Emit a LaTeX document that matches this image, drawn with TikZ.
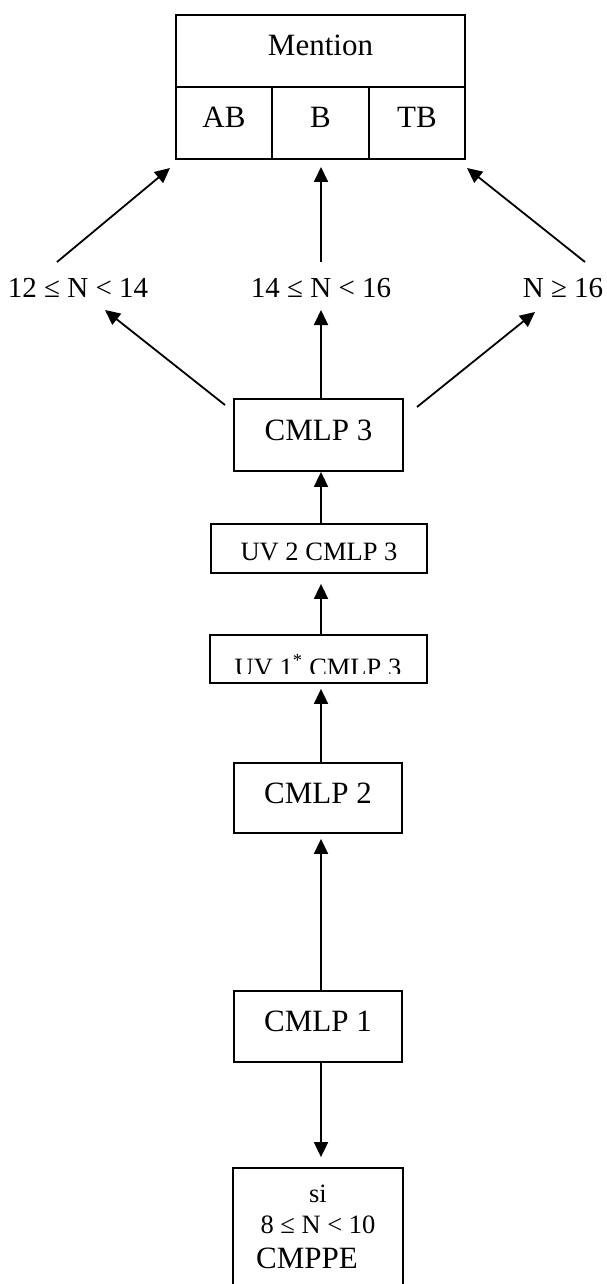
\documentclass[tikz,border=0pt]{standalone}
\usepackage{fontspec}
\setmainfont{Liberation Serif}
\usetikzlibrary{arrows.meta}
\begin{document}
\begin{tikzpicture}[x=1pt,y=-1pt,
  box/.style={draw, line width=1.8pt, inner sep=0pt, text height=15pt, text depth=5pt},
  arr/.style={line width=1.8pt, -{Triangle[length=15pt,width=14pt]}},
  big/.style={font=\fontsize{31}{36}\selectfont},
  mid/.style={font=\fontsize{26.5}{31}\selectfont},
  lab/.style={font=\fontsize{29}{34}\selectfont, anchor=base, inner sep=0pt}]
\useasboundingbox (0,0) rectangle (607,1284);
\clip (0,0) rectangle (607,1284);
\coordinate (ax) at (321,0);
% Mention table
\node[box,big,minimum width=289pt,minimum height=72pt] (mention) at (320.5,51) {Mention};
\node[box,big,minimum width=96pt,minimum height=72pt] (ab) at (224,123) {AB};
\node[box,big,minimum width=97pt,minimum height=72pt] (b) at (320.5,123) {B};
\node[box,big,minimum width=96pt,minimum height=72pt] (tb) at (417,123) {TB};
% labels
\node[lab] (l1) at (78,297) {12 ≤ N < 14};
\node[lab] (l2) at (321,297) {14 ≤ N < 16};
\node[lab] (l3) at (563,297) {N ≥ 16};
% boxes
\node[box,big,minimum width=169pt,minimum height=72pt] (cmlp3) at (318.5,435) {CMLP 3};
\node[box,mid,minimum width=216pt,minimum height=49pt,text height=23pt,text depth=0pt] (uv2) at (319,548.5) {UV 2 CMLP 3};
\node[box,minimum width=217pt,minimum height=48pt] (uv1) at (318.5,659) {};
\begin{scope}
\clip (210,635) rectangle (427,673);
\node[anchor=base,mid,inner sep=0pt] (uv1t) at (318,676) {UV 1\textsuperscript{*} CMLP 3};
\end{scope}
\node[box,big,minimum width=168pt,minimum height=70pt] (cmlp2) at (318,798) {CMLP 2};
\node[box,big,minimum width=168pt,minimum height=71pt] (cmlp1) at (318,1026.5) {CMLP 1};
\node[box,minimum width=170pt,minimum height=150pt] (si) at (318,1243) {};
\node[anchor=base,mid,inner sep=0pt] (si1) at (318,1202) {si};
\node[anchor=base,mid,inner sep=0pt] (si2) at (318,1233) {8 ≤ N < 10};
\node[anchor=base,big,inner sep=0pt] (si3) at (307,1268) {CMPPE};
% upper arrows
\coordinate (a1s) at (57,262);  \coordinate (a1e) at (170,168);
\coordinate (a2s) at (321,262); \coordinate (a2e) at (321,167);
\coordinate (a3s) at (585,262); \coordinate (a3e) at (467,168);
\draw[arr] (a1s) -- (a1e);
\draw[arr] (a2s) -- (a2e);
\draw[arr] (a3s) -- (a3e);
% lower arrows
\coordinate (b1s) at (225,405); \coordinate (b1e) at (105,310);
\coordinate (b2e) at (321,310);
\coordinate (b3s) at (417,407); \coordinate (b3e) at (535,312);
\draw[arr] (b1s) -- (b1e);
\draw[arr] (cmlp3.north -| ax) -- (b2e);
\draw[arr] (b3s) -- (b3e);
% vertical chain
\draw[arr] (uv2.north -| ax) -- (cmlp3.south -| ax);
\draw[arr] (uv1.north -| ax) -- ([yshift=-10pt]uv2.south -| ax);
\draw[arr] (cmlp2.north -| ax) -- ([yshift=-5pt]uv1.south -| ax);
\draw[arr] (cmlp1.north -| ax) -- ([yshift=-5pt]cmlp2.south -| ax);
\draw[arr] (cmlp1.south -| ax) -- ([yshift=10pt]si.north -| ax);
\end{tikzpicture}
\end{document}
